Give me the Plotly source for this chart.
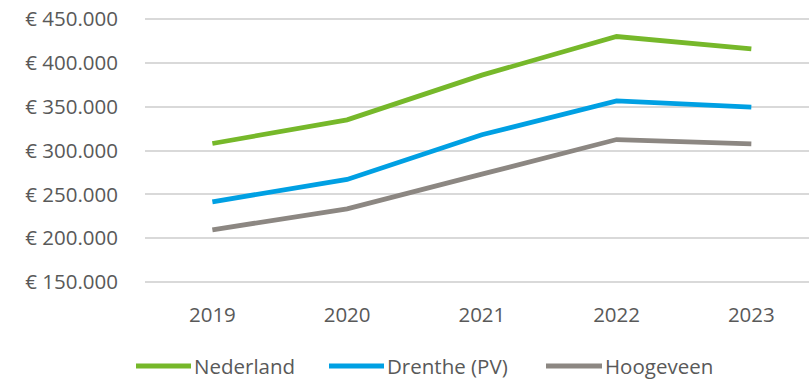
import plotly.graph_objects as go

years = ["2019", "2020", "2021", "2022", "2023"]
nederland = [308000, 335000, 386000, 430000, 416000]
drenthe = [241500, 267000, 318000, 356500, 349500]
hoogeveen = [209500, 233500, 273000, 312500, 307500]

y_ticks = [150000, 200000, 250000, 300000, 350000, 400000, 450000]
y_labels = ["€ 150.000", "€ 200.000", "€ 250.000", "€ 300.000",
            "€ 350.000", "€ 400.000", "€ 450.000"]

series = [
    ("Nederland", nederland, "#76B82A"),
    ("Drenthe (PV)", drenthe, "#00A0E3"),
    ("Hoogeveen", hoogeveen, "#8C8782"),
]

font_family = "Open Sans"
text_color = "#595959"
font_size = 20.5

W, H = 809, 379
# one pixel of padding above and below the outer gridlines keeps them drawn
M_L, M_R, M_T, M_B = 145, 0, 17, 95
plot_w = W - M_L - M_R
plot_h = H - M_T - M_B
units_per_px = (y_ticks[-1] - y_ticks[0]) / (plot_h - 4)
y_range = [y_ticks[0] - 2 * units_per_px, y_ticks[-1] + 2 * units_per_px]


def px_to_paper_x(px):
    return (px - M_L) / plot_w


def px_to_paper_y(py):
    return (H - M_B - py) / plot_h


fig = go.Figure()
for name, values, color in series:
    fig.add_trace(go.Scatter(
        x=list(range(len(years))), y=values, name=name, mode="lines",
        line=dict(color=color, width=4.8),
        showlegend=False,
    ))

# Legend row below the axis: a long line sample followed by the series name
legend_y = px_to_paper_y(366)
legend_slots = [(136, 191), (329, 384), (546, 602)]
shapes = []
annotations = []
for (name, _, color), (x0, x1) in zip(series, legend_slots):
    shapes.append(dict(
        type="line", xref="paper", yref="paper",
        x0=px_to_paper_x(x0), x1=px_to_paper_x(x1),
        y0=legend_y, y1=legend_y,
        line=dict(color=color, width=5),
    ))
    annotations.append(dict(
        xref="paper", yref="paper", x=px_to_paper_x(x1 + 1), y=legend_y,
        xanchor="left", yanchor="middle", showarrow=False, text=name,
        font=dict(family=font_family, size=font_size, color=text_color),
    ))

fig.update_layout(
    width=W, height=H,
    margin=dict(l=M_L, r=M_R, t=M_T, b=M_B),
    paper_bgcolor="white", plot_bgcolor="white",
    font=dict(family=font_family, size=font_size, color=text_color),
    showlegend=False,
    shapes=shapes,
    annotations=annotations,
    xaxis=dict(
        range=[-0.5, 4.428], tickmode="array",
        tickvals=list(range(len(years))), ticktext=years,
        showgrid=False, zeroline=False, showline=False,
        ticks="", ticklabelstandoff=16,
    ),
    yaxis=dict(
        range=y_range, tickmode="array",
        tickvals=y_ticks, ticktext=y_labels,
        showgrid=True, gridcolor="#D9D9D9", gridwidth=1.5,
        zeroline=False, showline=False, ticks="",
        ticklabelstandoff=26,
    ),
)

fig.write_html("out.html")
